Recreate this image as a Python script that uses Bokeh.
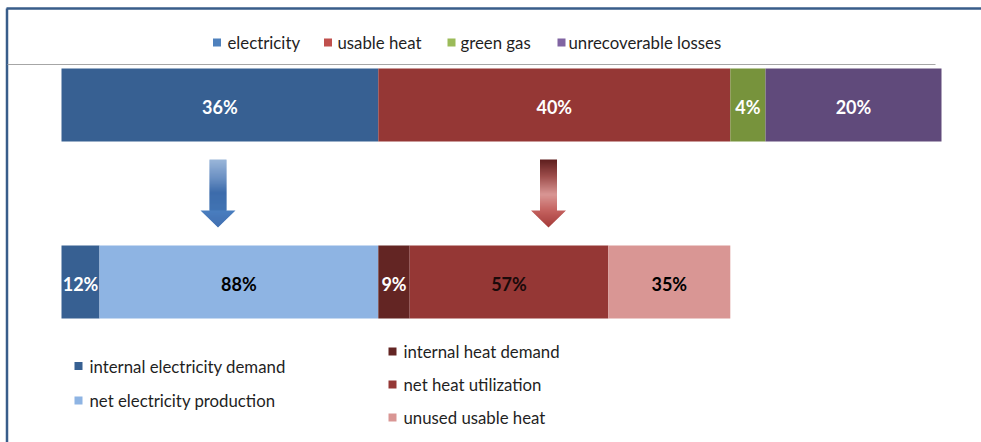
from bokeh.plotting import figure
from bokeh.models import Range1d
from bokeh.core.properties import value
from bokeh.embed import file_html
from bokeh.resources import INLINE

# Output split of the plant (% of energy input)
output_categories = ["electricity", "usable heat", "green gas", "unrecoverable losses"]
output_shares = [36, 40, 4, 20]
output_colors = ["#376092", "#953735", "#77933c", "#604a7b"]
output_swatch_colors = ["#4f81bd", "#c0504d", "#9bbb59", "#8064a2"]
output_label_colors = ["white", "white", "white", "white"]

# How the electricity is used (% of electricity)
electricity_categories = ["internal electricity demand", "net electricity production"]
electricity_shares = [12, 88]
electricity_colors = ["#376092", "#8eb4e3"]
electricity_label_colors = ["white", "black"]

# How the usable heat is used (% of usable heat)
heat_categories = ["internal heat demand", "net heat utilization", "unused usable heat"]
heat_shares = [9, 57, 35]
heat_colors = ["#632523", "#953735", "#d99694"]
heat_label_colors = ["white", "#1a0a0a", "black"]

W, H = 981, 442
FONT = value("Lato")
LEGEND_SIZE = "16.8px"
LABEL_SIZE = "18px"
PX_PER_PCT = 8.8
BAR_LEFT = 61

p = figure(width=W, height=H, output_backend="svg", toolbar_location=None,
           x_range=Range1d(0, W), y_range=Range1d(H, 0),
           x_axis_type=None, y_axis_type=None, min_border=0,
           outline_line_color=None, background_fill_color="white",
           border_fill_color="white")
p.grid.visible = False
p.extra_x_ranges = {"pct": Range1d(-BAR_LEFT / PX_PER_PCT, (W - BAR_LEFT) / PX_PER_PCT)}


def stack(shares, start=0.0, scale=1.0):
    lefts, rights = [], []
    x = start
    for s in shares:
        lefts.append(x)
        x += s * scale
        rights.append(x)
    return lefts, rights


def draw_bar(shares, colors, label_colors, y, start=0.0, scale=1.0):
    lefts, rights = stack(shares, start, scale)
    p.hbar(y=[y] * len(shares), left=lefts, right=rights, height=73,
           fill_color=colors, line_color=None, x_range_name="pct")
    mids = [(a + b) / 2 for a, b in zip(lefts, rights)]
    p.text(x=mids, y=[y + 1.5] * len(shares), text=[f"{s}%" for s in shares],
           text_color=label_colors, text_font=FONT, text_font_size=LABEL_SIZE,
           text_font_style="bold", text_align="center", text_baseline="middle",
           x_range_name="pct")
    return lefts, rights


# frame lines
p.line(x=[6, W], y=[8, 8], line_color="#385d8a", line_width=2.5)
p.line(x=[6.5, 6.5], y=[8, H], line_color="#385d8a", line_width=2.5)
p.line(x=[7, 935], y=[64, 64], line_color="#a6a6a6", line_width=1.2)

# top bar: energy output
out_l, out_r = draw_bar(output_shares, output_colors, output_label_colors, 104.5)

# bottom bar: electricity and heat breakdown, scaled to their parent segments
elec_total = output_shares[0]
heat_total = output_shares[1]
draw_bar(electricity_shares, electricity_colors, electricity_label_colors, 281.5,
         start=out_l[0], scale=elec_total / sum(electricity_shares))
draw_bar(heat_shares, heat_colors, heat_label_colors, 281.5,
         start=out_l[1], scale=heat_total / sum(heat_shares))


def hex2rgb(h):
    h = h.lstrip("#")
    return tuple(int(h[i:i + 2], 16) for i in (0, 2, 4))


def interp(stops, y):
    for (y0, c0), (y1, c1) in zip(stops, stops[1:]):
        if y0 <= y <= y1:
            t = (y - y0) / (y1 - y0) if y1 > y0 else 0
            a, b = hex2rgb(c0), hex2rgb(c1)
            return "#%02x%02x%02x" % tuple(round(a[i] + (b[i] - a[i]) * t) for i in range(3))
    return stops[-1][1]


def arrow(cx, shaft_stops, head_stops, top=159, neck=210, tip=227, shaft_w=17, head_w=35):
    # shaft drawn as overlapping 1px strips forming a vertical gradient
    n = neck - top
    tops = [top + i for i in range(n)]
    cols = [interp(shaft_stops, t + 0.5) for t in tops]
    p.quad(left=[cx - shaft_w / 2] * n, right=[cx + shaft_w / 2] * n,
           top=tops, bottom=[t + 1.6 for t in tops],
           fill_color=cols, line_color=None)
    # arrow head as stacked trapezoid slices
    m = tip - neck
    xs, ys, hcols = [], [], []
    for i in range(m):
        y0 = neck + i
        y1 = min(y0 + 1.6, tip)
        w0 = head_w / 2 * (tip - y0) / (tip - neck)
        w1 = max(head_w / 2 * (tip - y1) / (tip - neck), 0)
        xs.append([cx - w0, cx + w0, cx + w1, cx - w1])
        ys.append([y0, y0, y1, y1])
        hcols.append(interp(head_stops, y0 + 0.5))
    p.patches(xs=xs, ys=ys, fill_color=hcols, line_color=None)


arrow(217.5,
      [(159, "#9ab6d9"), (178, "#6a8fc2"), (192, "#3d6cab"), (210, "#4174b3")],
      [(210, "#4a7ebf"), (227, "#416fb0")])
arrow(548,
      [(159, "#5e1e1e"), (176, "#9e4e4c"), (194, "#d99694"), (210, "#c3625f")],
      [(210, "#c4625f"), (227, "#a33a38")])

# top legend
top_swatch_x = [216.5, 327.5, 451, 561]
top_text_x = [227, 337, 460, 568]
p.rect(x=top_swatch_x, y=[42] * 4, width=8, height=8, width_units="screen",
       height_units="screen", fill_color=output_swatch_colors, line_color=None)
p.text(x=top_text_x, y=[42] * 4, text=output_categories, text_font=FONT,
       text_font_size=LEGEND_SIZE, text_color="#1f1f1f", text_baseline="middle")

# bottom legend: electricity column
elec_y = [365.5, 400]
p.rect(x=[78] * 2, y=elec_y, width=8, height=8, width_units="screen",
       height_units="screen", fill_color=electricity_colors, line_color=None)
p.text(x=[89] * 2, y=elec_y, text=electricity_categories, text_font=FONT,
       text_font_size=LEGEND_SIZE, text_color="#1f1f1f", text_baseline="middle")

# bottom legend: heat column
heat_y = [351, 384, 417]
p.rect(x=[392] * 3, y=heat_y, width=8, height=8, width_units="screen",
       height_units="screen", fill_color=heat_colors, line_color=None)
p.text(x=[403] * 3, y=heat_y, text=heat_categories, text_font=FONT,
       text_font_size=LEGEND_SIZE, text_color="#1f1f1f", text_baseline="middle")

open("out.html", "w").write(file_html(p, INLINE))
